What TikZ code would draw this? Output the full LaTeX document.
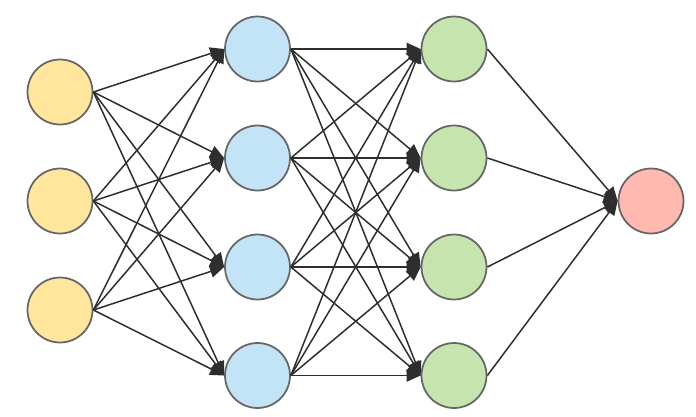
\documentclass[tikz,border=0pt]{standalone}
\usetikzlibrary{arrows.meta}
\definecolor{cyel}{HTML}{FFE69C}
\definecolor{cblu}{HTML}{C3E3F7}
\definecolor{cgrn}{HTML}{C6E5AE}
\definecolor{cred}{HTML}{FFB9B0}
\definecolor{cbrd}{HTML}{666666}
\definecolor{cedge}{HTML}{2E2E2E}
\begin{document}
\begin{tikzpicture}[x=0.02cm,y=-0.02cm,
  neuron/.style={circle,draw=cbrd,line width=1pt,minimum size=1.3cm,inner sep=0pt},
  conn/.style={draw=cedge,line width=0.85pt,-{Triangle[length=8pt,width=7pt]}}]
\useasboundingbox (0,0) rectangle (696,416);
\node[neuron,fill=cyel] (i1) at (60,92) {};
\node[neuron,fill=cyel] (i2) at (60,201) {};
\node[neuron,fill=cyel] (i3) at (60,310) {};
\node[neuron,fill=cblu] (h1) at (257.5,49) {};
\node[neuron,fill=cblu] (h2) at (257.5,158) {};
\node[neuron,fill=cblu] (h3) at (257.5,267) {};
\node[neuron,fill=cblu] (h4) at (257.5,375.5) {};
\node[neuron,fill=cgrn] (g1) at (454,49) {};
\node[neuron,fill=cgrn] (g2) at (454,158) {};
\node[neuron,fill=cgrn] (g3) at (454,267) {};
\node[neuron,fill=cgrn] (g4) at (454,375.5) {};
\node[neuron,fill=cred] (o) at (651,201) {};
\foreach \a in {i1,i2,i3}{\foreach \b in {h1,h2,h3,h4}{\draw[conn] (\a.east) -- (\b.west);}}
\foreach \a in {h1,h2,h3,h4}{\foreach \b in {g1,g2,g3,g4}{\draw[conn] (\a.east) -- (\b.west);}}
\foreach \a in {g1,g2,g3,g4}{\draw[conn] (\a.east) -- (o.west);}
\end{tikzpicture}
\end{document}
